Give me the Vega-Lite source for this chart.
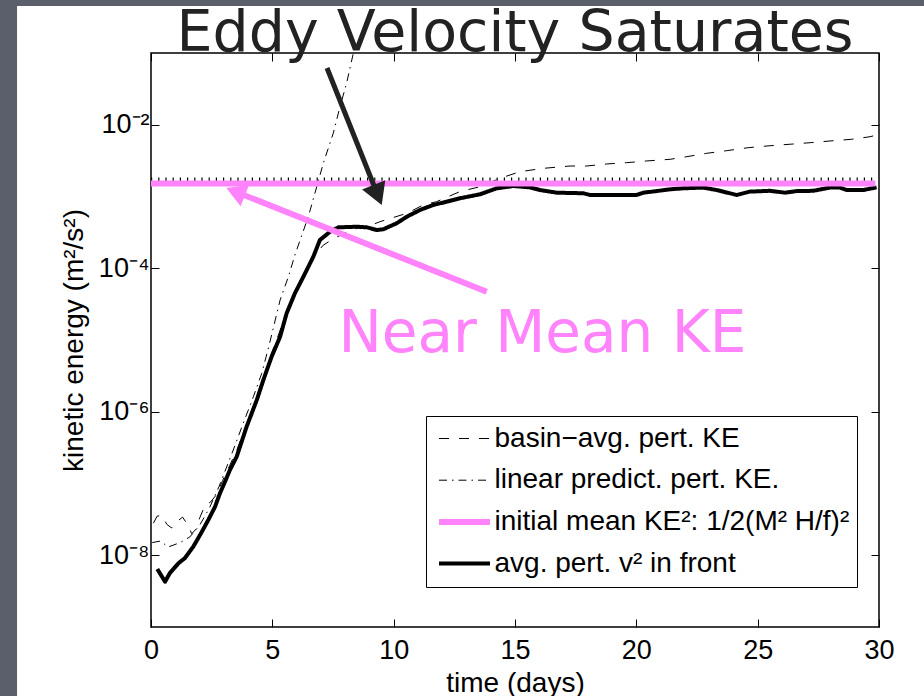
{
  "$schema": "https://vega.github.io/schema/vega-lite/v6.json",
  "width": 728,
  "height": 574,
  "autosize": {"type": "none"},
  "padding": {"left": 151, "top": 53, "right": 45, "bottom": 69},
  "background": "#ffffff",
  "title": {
    "text": "Eddy Velocity Saturates",
    "font": "DejaVu Sans",
    "fontSize": 57,
    "fontWeight": "normal",
    "color": "#222222",
    "anchor": "middle",
    "frame": "group",
    "baseline": "alphabetic",
    "offset": 0,
    "dy": 108
  },
  "config": {
    "view": {"stroke": "#000000", "strokeWidth": 1.5},
    "axis": {
      "labelFont": "Liberation Sans",
      "labelFontSize": 27,
      "labelColor": "#000000",
      "titleFont": "Liberation Sans",
      "titleFontSize": 28,
      "titleFontWeight": "normal",
      "titleColor": "#000000",
      "tickColor": "#000000",
      "tickWidth": 1,
      "tickSize": -8,
      "domain": false,
      "grid": false
    },
    "legend": {
      "labelFont": "Liberation Sans",
      "labelFontSize": 28,
      "labelColor": "#000000",
      "labelLimit": 0
    }
  },
  "data": {
    "values": [
      {"series": "avg. pert. v² in front", "day": 0.26, "ke": 6.43e-9},
      {"series": "avg. pert. v² in front", "day": 0.58, "ke": 4.28e-9},
      {"series": "avg. pert. v² in front", "day": 0.78, "ke": 5.66e-9},
      {"series": "avg. pert. v² in front", "day": 1.13, "ke": 7.73e-9},
      {"series": "avg. pert. v² in front", "day": 1.40, "ke": 9.16e-9},
      {"series": "avg. pert. v² in front", "day": 1.74, "ke": 1.315e-8},
      {"series": "avg. pert. v² in front", "day": 2.02, "ke": 1.91e-8},
      {"series": "avg. pert. v² in front", "day": 2.36, "ke": 3.10e-8},
      {"series": "avg. pert. v² in front", "day": 2.64, "ke": 4.75e-8},
      {"series": "avg. pert. v² in front", "day": 2.84, "ke": 7.30e-8},
      {"series": "avg. pert. v² in front", "day": 3.05, "ke": 1.06e-7},
      {"series": "avg. pert. v² in front", "day": 3.25, "ke": 1.54e-7},
      {"series": "avg. pert. v² in front", "day": 3.53, "ke": 2.36e-7},
      {"series": "avg. pert. v² in front", "day": 3.94, "ke": 6.19e-7},
      {"series": "avg. pert. v² in front", "day": 4.36, "ke": 1.46e-6},
      {"series": "avg. pert. v² in front", "day": 4.63, "ke": 2.77e-6},
      {"series": "avg. pert. v² in front", "day": 4.97, "ke": 5.85e-6},
      {"series": "avg. pert. v² in front", "day": 5.32, "ke": 1.11e-5},
      {"series": "avg. pert. v² in front", "day": 5.59, "ke": 2.36e-5},
      {"series": "avg. pert. v² in front", "day": 5.93, "ke": 4.48e-5},
      {"series": "avg. pert. v² in front", "day": 6.28, "ke": 7.62e-5},
      {"series": "avg. pert. v² in front", "day": 6.69, "ke": 1.45e-4},
      {"series": "avg. pert. v² in front", "day": 6.96, "ke": 2.48e-4},
      {"series": "avg. pert. v² in front", "day": 7.38, "ke": 3.23e-4},
      {"series": "avg. pert. v² in front", "day": 7.72, "ke": 3.72e-4},
      {"series": "avg. pert. v² in front", "day": 8.48, "ke": 3.79e-4},
      {"series": "avg. pert. v² in front", "day": 8.89, "ke": 3.72e-4},
      {"series": "avg. pert. v² in front", "day": 9.30, "ke": 3.41e-4},
      {"series": "avg. pert. v² in front", "day": 9.57, "ke": 3.49e-4},
      {"series": "avg. pert. v² in front", "day": 10.12, "ke": 4.23e-4},
      {"series": "avg. pert. v² in front", "day": 10.54, "ke": 5.22e-4},
      {"series": "avg. pert. v² in front", "day": 11.08, "ke": 6.48e-4},
      {"series": "avg. pert. v² in front", "day": 11.63, "ke": 7.62e-4},
      {"series": "avg. pert. v² in front", "day": 12.19, "ke": 8.47e-4},
      {"series": "avg. pert. v² in front", "day": 12.73, "ke": 9.44e-4},
      {"series": "avg. pert. v² in front", "day": 13.56, "ke": 1.074e-3},
      {"series": "avg. pert. v² in front", "day": 14.25, "ke": 1.30e-3},
      {"series": "avg. pert. v² in front", "day": 14.93, "ke": 1.40e-3},
      {"series": "avg. pert. v² in front", "day": 15.62, "ke": 1.34e-3},
      {"series": "avg. pert. v² in front", "day": 16.03, "ke": 1.23e-3},
      {"series": "avg. pert. v² in front", "day": 16.72, "ke": 1.13e-3},
      {"series": "avg. pert. v² in front", "day": 17.81, "ke": 1.11e-3},
      {"series": "avg. pert. v² in front", "day": 18.09, "ke": 1.05e-3},
      {"series": "avg. pert. v² in front", "day": 20.01, "ke": 1.05e-3},
      {"series": "avg. pert. v² in front", "day": 20.29, "ke": 1.13e-3},
      {"series": "avg. pert. v² in front", "day": 20.84, "ke": 1.19e-3},
      {"series": "avg. pert. v² in front", "day": 21.39, "ke": 1.26e-3},
      {"series": "avg. pert. v² in front", "day": 21.94, "ke": 1.30e-3},
      {"series": "avg. pert. v² in front", "day": 22.76, "ke": 1.33e-3},
      {"series": "avg. pert. v² in front", "day": 23.31, "ke": 1.23e-3},
      {"series": "avg. pert. v² in front", "day": 24.14, "ke": 1.05e-3},
      {"series": "avg. pert. v² in front", "day": 24.68, "ke": 1.17e-3},
      {"series": "avg. pert. v² in front", "day": 25.51, "ke": 1.20e-3},
      {"series": "avg. pert. v² in front", "day": 26.13, "ke": 1.13e-3},
      {"series": "avg. pert. v² in front", "day": 26.61, "ke": 1.19e-3},
      {"series": "avg. pert. v² in front", "day": 27.29, "ke": 1.20e-3},
      {"series": "avg. pert. v² in front", "day": 27.97, "ke": 1.33e-3},
      {"series": "avg. pert. v² in front", "day": 28.39, "ke": 1.33e-3},
      {"series": "avg. pert. v² in front", "day": 28.67, "ke": 1.23e-3},
      {"series": "avg. pert. v² in front", "day": 29.35, "ke": 1.23e-3},
      {"series": "avg. pert. v² in front", "day": 29.90, "ke": 1.34e-3},

      {"series": "basin−avg. pert. KE", "day": 0.10, "ke": 2.8e-8},
      {"series": "basin−avg. pert. KE", "day": 0.25, "ke": 3.5e-8},
      {"series": "basin−avg. pert. KE", "day": 0.45, "ke": 3.6e-8},
      {"series": "basin−avg. pert. KE", "day": 0.65, "ke": 2.7e-8},
      {"series": "basin−avg. pert. KE", "day": 0.85, "ke": 2.4e-8},
      {"series": "basin−avg. pert. KE", "day": 1.05, "ke": 2.9e-8},
      {"series": "basin−avg. pert. KE", "day": 1.30, "ke": 3.4e-8},
      {"series": "basin−avg. pert. KE", "day": 1.50, "ke": 2.7e-8},
      {"series": "basin−avg. pert. KE", "day": 1.68, "ke": 2.0e-8},
      {"series": "basin−avg. pert. KE", "day": 1.85, "ke": 2.3e-8},
      {"series": "basin−avg. pert. KE", "day": 2.02, "ke": 3.4e-8},
      {"series": "basin−avg. pert. KE", "day": 2.23, "ke": 5.0e-8},
      {"series": "basin−avg. pert. KE", "day": 2.45, "ke": 5.5e-8},
      {"series": "basin−avg. pert. KE", "day": 2.70, "ke": 7.0e-8},
      {"series": "basin−avg. pert. KE", "day": 2.95, "ke": 1.1e-7},
      {"series": "basin−avg. pert. KE", "day": 3.25, "ke": 1.8e-7},
      {"series": "basin−avg. pert. KE", "day": 3.55, "ke": 3.0e-7},
      {"series": "basin−avg. pert. KE", "day": 3.95, "ke": 6.8e-7},
      {"series": "basin−avg. pert. KE", "day": 4.35, "ke": 1.6e-6},
      {"series": "basin−avg. pert. KE", "day": 4.65, "ke": 3.1e-6},
      {"series": "basin−avg. pert. KE", "day": 4.95, "ke": 6.3e-6},
      {"series": "basin−avg. pert. KE", "day": 5.30, "ke": 1.3e-5},
      {"series": "basin−avg. pert. KE", "day": 5.60, "ke": 2.6e-5},
      {"series": "basin−avg. pert. KE", "day": 5.95, "ke": 5.0e-5},
      {"series": "basin−avg. pert. KE", "day": 6.30, "ke": 8.5e-5},
      {"series": "basin−avg. pert. KE", "day": 6.70, "ke": 1.45e-4},
      {"series": "basin−avg. pert. KE", "day": 7.10, "ke": 2.1e-4},
      {"series": "basin−avg. pert. KE", "day": 7.45, "ke": 2.5e-4},
      {"series": "basin−avg. pert. KE", "day": 8.06, "ke": 3.2e-4},
      {"series": "basin−avg. pert. KE", "day": 8.50, "ke": 3.6e-4},
      {"series": "basin−avg. pert. KE", "day": 9.00, "ke": 3.9e-4},
      {"series": "basin−avg. pert. KE", "day": 9.44, "ke": 4.46e-4},
      {"series": "basin−avg. pert. KE", "day": 10.54, "ke": 5.83e-4},
      {"series": "basin−avg. pert. KE", "day": 11.22, "ke": 7.62e-4},
      {"series": "basin−avg. pert. KE", "day": 11.77, "ke": 8.47e-4},
      {"series": "basin−avg. pert. KE", "day": 12.73, "ke": 1.17e-3},
      {"series": "basin−avg. pert. KE", "day": 13.56, "ke": 1.37e-3},
      {"series": "basin−avg. pert. KE", "day": 14.38, "ke": 1.79e-3},
      {"series": "basin−avg. pert. KE", "day": 15.21, "ke": 2.22e-3},
      {"series": "basin−avg. pert. KE", "day": 16.17, "ke": 2.47e-3},
      {"series": "basin−avg. pert. KE", "day": 17.27, "ke": 2.66e-3},
      {"series": "basin−avg. pert. KE", "day": 17.95, "ke": 2.66e-3},
      {"series": "basin−avg. pert. KE", "day": 18.78, "ke": 2.84e-3},
      {"series": "basin−avg. pert. KE", "day": 19.60, "ke": 2.96e-3},
      {"series": "basin−avg. pert. KE", "day": 20.43, "ke": 3.13e-3},
      {"series": "basin−avg. pert. KE", "day": 21.39, "ke": 3.30e-3},
      {"series": "basin−avg. pert. KE", "day": 22.08, "ke": 3.59e-3},
      {"series": "basin−avg. pert. KE", "day": 22.90, "ke": 4.00e-3},
      {"series": "basin−avg. pert. KE", "day": 23.72, "ke": 4.35e-3},
      {"series": "basin−avg. pert. KE", "day": 24.61, "ke": 4.79e-3},
      {"series": "basin−avg. pert. KE", "day": 25.51, "ke": 5.10e-3},
      {"series": "basin−avg. pert. KE", "day": 26.33, "ke": 5.35e-3},
      {"series": "basin−avg. pert. KE", "day": 27.16, "ke": 5.62e-3},
      {"series": "basin−avg. pert. KE", "day": 27.98, "ke": 5.94e-3},
      {"series": "basin−avg. pert. KE", "day": 28.87, "ke": 6.27e-3},
      {"series": "basin−avg. pert. KE", "day": 29.63, "ke": 6.81e-3},
      {"series": "basin−avg. pert. KE", "day": 29.90, "ke": 7.19e-3},

      {"series": "linear predict. pert. KE.", "day": 0.05, "ke": 1.5e-8},
      {"series": "linear predict. pert. KE.", "day": 0.40, "ke": 1.58e-8},
      {"series": "linear predict. pert. KE.", "day": 0.70, "ke": 1.3e-8},
      {"series": "linear predict. pert. KE.", "day": 1.20, "ke": 1.5e-8},
      {"series": "linear predict. pert. KE.", "day": 1.60, "ke": 1.8e-8},
      {"series": "linear predict. pert. KE.", "day": 2.00, "ke": 2.6e-8},
      {"series": "linear predict. pert. KE.", "day": 2.40, "ke": 4.5e-8},
      {"series": "linear predict. pert. KE.", "day": 2.80, "ke": 9.0e-8},
      {"series": "linear predict. pert. KE.", "day": 3.39, "ke": 2.93e-7},
      {"series": "linear predict. pert. KE.", "day": 3.80, "ke": 6.9e-7},
      {"series": "linear predict. pert. KE.", "day": 4.22, "ke": 1.62e-6},
      {"series": "linear predict. pert. KE.", "day": 4.56, "ke": 3.4e-6},
      {"series": "linear predict. pert. KE.", "day": 4.85, "ke": 8.0e-6},
      {"series": "linear predict. pert. KE.", "day": 5.32, "ke": 3.6e-5},
      {"series": "linear predict. pert. KE.", "day": 5.66, "ke": 7.6e-5},
      {"series": "linear predict. pert. KE.", "day": 5.95, "ke": 1.6e-4},
      {"series": "linear predict. pert. KE.", "day": 6.48, "ke": 5.2e-4},
      {"series": "linear predict. pert. KE.", "day": 6.83, "ke": 1.37e-3},
      {"series": "linear predict. pert. KE.", "day": 7.10, "ke": 2.9e-3},
      {"series": "linear predict. pert. KE.", "day": 7.51, "ke": 7.6e-3},
      {"series": "linear predict. pert. KE.", "day": 7.79, "ke": 1.79e-2},
      {"series": "linear predict. pert. KE.", "day": 8.06, "ke": 3.8e-2},
      {"series": "linear predict. pert. KE.", "day": 8.34, "ke": 0.1},

      {"series": "initial mean KE²: 1/2(M² H/f)²", "day": 0, "ke": 1.52e-3},
      {"series": "initial mean KE²: 1/2(M² H/f)²", "day": 29.85, "ke": 1.52e-3}
    ]
  },
  "layer": [
    {
      "data": {"values": [{}]},
      "mark": {"type": "rect", "color": "#5b5f6b", "clip": false},
      "encoding": {
        "x": {"datum": -6.4, "type": "quantitative", "scale": {"domain": [0, 30], "nice": false, "zero": false}, "axis": null},
        "x2": {"datum": -5.52},
        "y": {"datum": 0.548, "type": "quantitative", "scale": {"type": "log", "domain": [1e-9, 0.1], "nice": false}, "axis": null},
        "y2": {"datum": 1e-11}
      }
    },
    {
      "data": {"values": [{}]},
      "mark": {"type": "rect", "color": "#5b5f6b", "clip": false},
      "encoding": {
        "x": {"datum": -6.4, "type": "quantitative", "axis": null},
        "x2": {"datum": 32},
        "y": {"datum": 0.548, "type": "quantitative", "axis": null},
        "y2": {"datum": 0.4517}
      }
    },
    {
      "data": {"values": [{}]},
      "mark": {"type": "rule", "color": "#000000", "strokeWidth": 5, "strokeDash": [1.2, 6], "strokeCap": "butt"},
      "encoding": {
        "x": {"datum": 0, "type": "quantitative", "axis": {"orient": "top", "labels": false, "title": null, "values": [0, 5, 10, 15, 20, 25, 30]}},
        "x2": {"datum": 29.85},
        "y": {"datum": 1.7e-3, "type": "quantitative", "axis": {"orient": "right", "labels": false, "title": null, "values": [1e-8, 1e-6, 1e-4, 1e-2]}}
      }
    },
    {
      "mark": {"type": "line", "strokeCap": "butt", "strokeJoin": "round"},
      "encoding": {
        "x": {
          "field": "day", "type": "quantitative",
          "axis": {"orient": "bottom", "title": "time (days)", "values": [0, 5, 10, 15, 20, 25, 30], "labelPadding": 18, "titlePadding": 6, "labelFlush": false}
        },
        "y": {
          "field": "ke", "type": "quantitative",
          "axis": {
            "orient": "left",
            "title": "kinetic energy (m²/s²)",
            "values": [1e-8, 1e-6, 1e-4, 1e-2],
            "labelExpr": "'10' + (datum.value < 5e-8 ? '⁻⁸' : datum.value < 5e-6 ? '⁻⁶' : datum.value < 5e-4 ? '⁻⁴' : '⁻²')",
            "labelPadding": 10,
            "titlePadding": 10,
            "labelFlush": false
          }
        },
        "color": {
          "field": "series", "type": "nominal",
          "scale": {
            "domain": ["basin−avg. pert. KE", "linear predict. pert. KE.", "initial mean KE²: 1/2(M² H/f)²", "avg. pert. v² in front"],
            "range": ["#000000", "#000000", "#ff83fa", "#000000"]
          },
          "legend": {
            "title": null,
            "orient": "none",
            "legendX": 275,
            "legendY": 363,
            "padding": 7.5,
            "strokeColor": "#000000",
            "fillColor": "#ffffff",
            "symbolType": "stroke",
            "symbolSize": 2601,
            "symbolOffset": 2.5,
            "labelOffset": 1.5,
            "clipHeight": 30,
            "rowPadding": 11.7
          }
        },
        "strokeDash": {
          "field": "series", "type": "nominal",
          "scale": {
            "domain": ["basin−avg. pert. KE", "linear predict. pert. KE.", "initial mean KE²: 1/2(M² H/f)²", "avg. pert. v² in front"],
            "range": [[10, 10], [8, 5, 1.5, 5], [1, 0], [1, 0]]
          }
        },
        "strokeWidth": {
          "field": "series", "type": "nominal",
          "scale": {
            "type": "ordinal",
            "domain": ["basin−avg. pert. KE", "linear predict. pert. KE.", "initial mean KE²: 1/2(M² H/f)²", "avg. pert. v² in front"],
            "range": [1, 1, 6, 4]
          }
        },
        "order": {"field": "day", "type": "quantitative"}
      }
    },
    {
      "data": {"values": [{}]},
      "mark": {"type": "rule", "color": "#222222", "strokeWidth": 5, "strokeCap": "butt"},
      "encoding": {
        "x": {"datum": 7.253, "type": "quantitative", "axis": null},
        "y": {"datum": 0.0618, "type": "quantitative", "axis": null},
        "x2": {"datum": 9.342},
        "y2": {"datum": 1.05e-3}
      }
    },
    {
      "data": {"values": [{}]},
      "mark": {"type": "point", "shape": "triangle-up", "filled": true, "color": "#222222", "opacity": 1, "size": 625, "angle": 158.1, "strokeWidth": 0},
      "encoding": {
        "x": {"datum": 9.342, "type": "quantitative", "axis": null},
        "y": {"datum": 1.05e-3, "type": "quantitative", "axis": null}
      }
    },
    {
      "data": {"values": [{}]},
      "mark": {"type": "rule", "color": "#ff83fa", "strokeWidth": 6, "strokeCap": "butt"},
      "encoding": {
        "x": {"datum": 13.834, "type": "quantitative", "axis": null},
        "y": {"datum": 4.71e-5, "type": "quantitative", "axis": null},
        "x2": {"datum": 3.486},
        "y2": {"datum": 1.164e-3}
      }
    },
    {
      "data": {"values": [{}]},
      "mark": {"type": "point", "shape": "triangle-up", "filled": true, "color": "#ff83fa", "opacity": 1, "size": 529, "angle": 291.7, "strokeWidth": 0},
      "encoding": {
        "x": {"datum": 3.486, "type": "quantitative", "axis": null},
        "y": {"datum": 1.164e-3, "type": "quantitative", "axis": null}
      }
    },
    {
      "data": {"values": [{}]},
      "mark": {"type": "text", "text": "Near Mean KE", "font": "DejaVu Sans", "fontSize": 58, "color": "#ff83fa", "align": "center", "baseline": "alphabetic"},
      "encoding": {
        "x": {"datum": 16.13, "type": "quantitative", "axis": null},
        "y": {"datum": 6.87e-6, "type": "quantitative", "axis": null}
      }
    }
  ]
}
